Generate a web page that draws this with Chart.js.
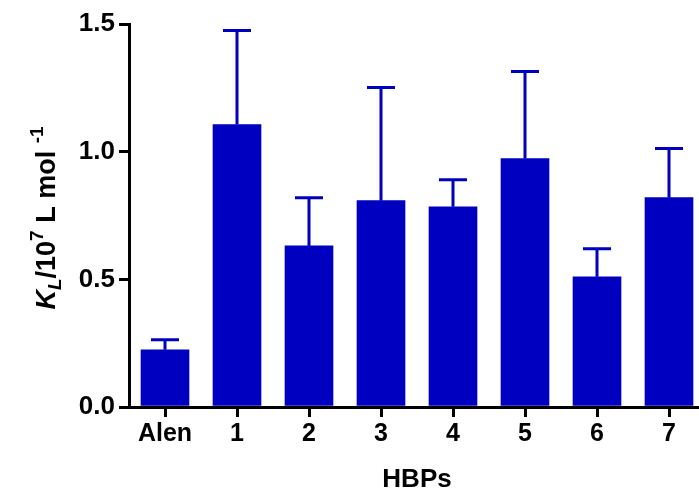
<!DOCTYPE html>
<html>
<head>
<meta charset="utf-8">
<script src="https://cdn.jsdelivr.net/npm/chart.js@4.4.1/dist/chart.umd.min.js"></script>
<style>
    html, body { margin: 0; padding: 0; background: #fff; overflow: hidden; }
    #wrap { width: 699px; height: 495px; overflow: hidden; }
</style>
</head>
<body>
<div id="wrap">
    <canvas id="kl-chart" width="705" height="495"></canvas>
</div>
<script>
const categories = ["Alen", "1", "2", "3", "4", "5", "6", "7"];
const kl = [0.224, 1.106, 0.631, 0.808, 0.784, 0.973, 0.510, 0.820];
const klError = [0.039, 0.369, 0.189, 0.443, 0.106, 0.341, 0.110, 0.192];
const yTicks = [0, 0.5, 1.0, 1.5];

const barColour = "rgb(0, 0, 192)";
const fontFamily = "'Liberation Sans', Arial, sans-serif";

// error bars (upper only), drawn through the y scale
const errorBars = {
    id: "errorBars",
    afterDatasetsDraw(chart) {
        const ctx = chart.ctx;
        const y = chart.scales.y;
        const meta = chart.getDatasetMeta(0);
        ctx.save();
        ctx.strokeStyle = barColour;
        ctx.lineWidth = 3;
        for (let i = 0; i < kl.length; ++i) {
            const x = meta.data[i].x;
            const yBar = y.getPixelForValue(kl[i]);
            const yTop = y.getPixelForValue(kl[i] + klError[i]);
            ctx.beginPath();
            ctx.moveTo(x, yBar);
            ctx.lineTo(x, yTop);
            ctx.moveTo(x - 14, yTop);
            ctx.lineTo(x + 14, yTop);
            ctx.stroke();
        }
        ctx.restore();
    }
};

// y title with sub/superscripts
const yTitle = {
    id: "yTitle",
    afterDraw(chart) {
        const ctx = chart.ctx;
        const parts = [
            { t: "K", size: 27, italic: true, dy: 0 },
            { t: "L", size: 19, italic: true, dy: 6 },
            { t: "/10", size: 27, italic: false, dy: 0 },
            { t: "7", size: 19, italic: false, dy: -12 },
            { t: " L mol ", size: 27, italic: false, dy: 0 },
            { t: "-1", size: 19, italic: false, dy: -12 }
        ];
        const fontOf = p => `${p.italic ? "italic " : ""}bold ${p.size}px ${fontFamily}`;
        let total = 0;
        for (let p of parts) {
            ctx.font = fontOf(p);
            p.w = ctx.measureText(p.t).width;
            total += p.w;
        }
        ctx.save();
        ctx.translate(55, 218);
        ctx.rotate(-Math.PI / 2);
        ctx.fillStyle = "#000";
        ctx.textBaseline = "alphabetic";
        ctx.textAlign = "left";
        let x = -total / 2;
        for (let p of parts) {
            ctx.font = fontOf(p);
            ctx.fillText(p.t, x, p.dy);
            x += p.w;
        }
        ctx.restore();
    }
};

const data = {
    labels: categories,
    datasets: [{
        data: kl,
        backgroundColor: barColour,
        borderWidth: 0,
        barThickness: 48
    }]
};

const config = {
    type: "bar",
    data,
    options: {
        responsive: false,
        animation: false,
        layout: { padding: { top: 24, left: 0, right: 0, bottom: 0 } },
        plugins: {
            legend: { display: false },
            tooltip: { enabled: false }
        },
        scales: {
            x: {
                afterFit(scale) { scale.height = 88; },
                grid: {
                    offset: false,
                    drawOnChartArea: false,
                    color: "#000",
                    tickLength: 10,
                    lineWidth: 3
                },
                border: { color: "#000", width: 3 },
                ticks: {
                    color: "#000",
                    padding: 2,
                    font: { family: fontFamily, size: 25, weight: "bold" }
                },
                title: {
                    display: true,
                    text: "HBPs",
                    color: "#000",
                    padding: { top: 0, bottom: 0 },
                    font: { family: fontFamily, size: 26, weight: "bold" }
                }
            },
            y: {
                min: 0,
                max: 1.5,
                afterFit(scale) { scale.width = 129; },
                afterBuildTicks(scale) {
                    scale.ticks = yTicks.map(v => ({ value: v }));
                },
                grid: {
                    drawOnChartArea: false,
                    color: "#000",
                    tickLength: 10,
                    lineWidth: 3
                },
                border: { color: "#000", width: 3 },
                ticks: {
                    color: "#000",
                    padding: 4,
                    callback: v => v.toFixed(1),
                    font: { family: fontFamily, size: 26, weight: "bold" }
                }
            }
        }
    },
    plugins: [errorBars, yTitle]
};

const ctx = document.getElementById("kl-chart");

if (ctx) {
    new Chart(ctx, config);
}
</script>
</body>
</html>
